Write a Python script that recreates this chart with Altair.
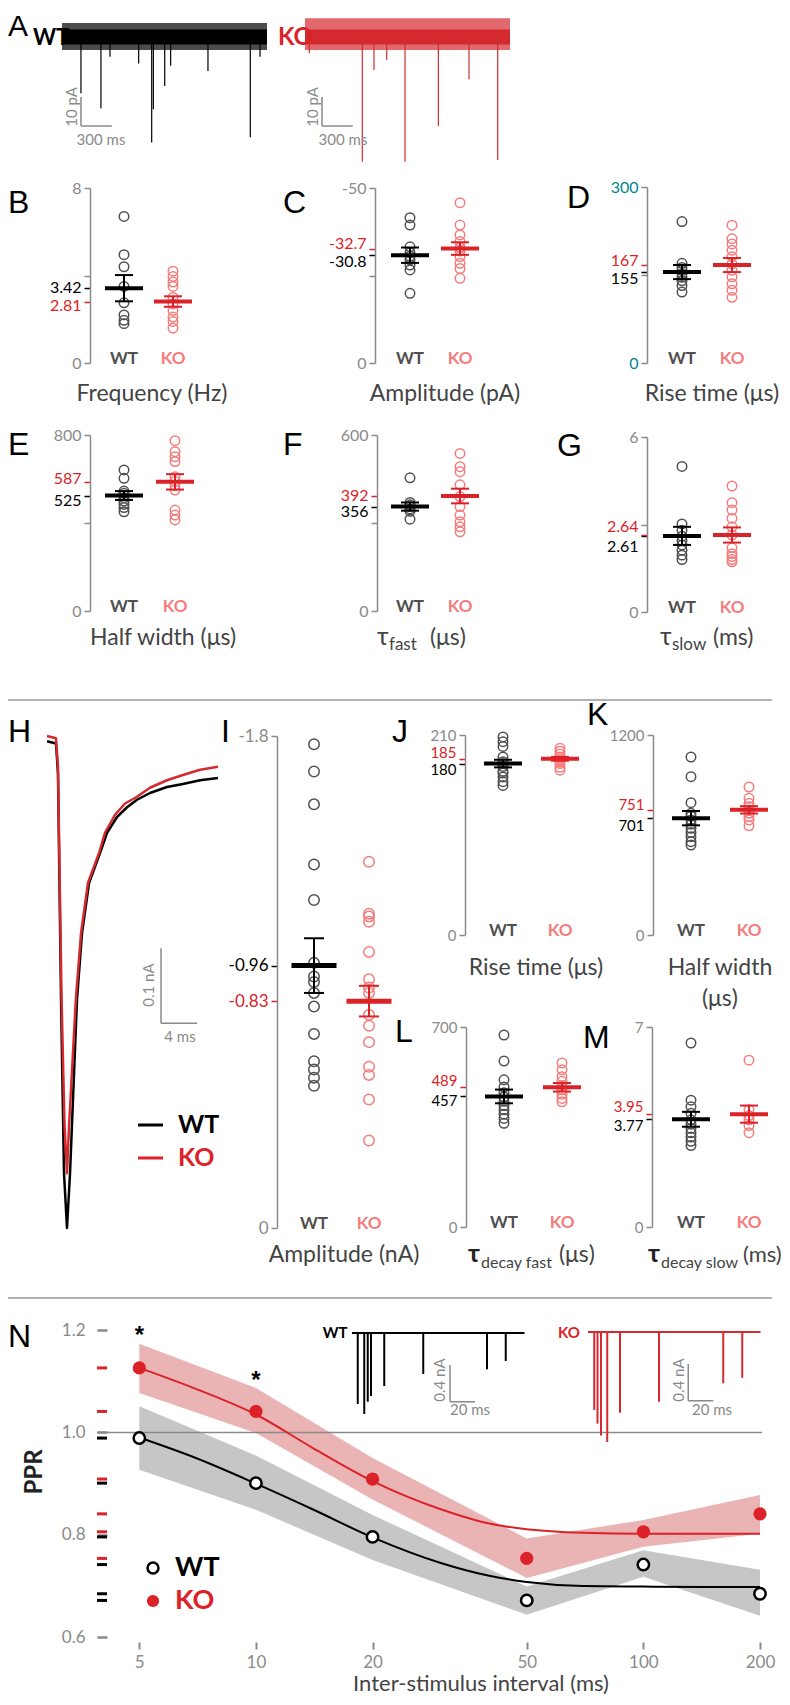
import altair as alt
import pandas as pd

# ================= values =================
# A: spontaneous currents (event time ms, peak pA)
A_WT_T = [185, 380, 468, 748, 875, 891, 1002, 1060, 1424, 1837, 1932]
A_WT_AMP = [-19.4, -24.6, -6.8, -9.1, -36.4, -24.9, -16.9, -9.9, -11.7, -34.6, -6.8]
A_KO_T = [42, 559, 673, 797, 976, 1301, 1600, 1880]
A_KO_AMP = [-5.6, -43.0, -11.4, -7.9, -43.0, -30.7, -14.6, -42.4]
A_WT_NOISE = [-4.5, 4.8]
A_KO_NOISE = [-4.5, 6.5]
A_CORE = [-2.6, 2.6]
A_DUR = 2000
A_BAR_T = [[185, 485], [166, 466]]
A_BAR_PA = [-20.7, -30.7]

# B-G single values
B_WT = [6.7, 4.95, 4.4, 3.5, 2.75, 2.2, 1.95, 1.8]
B_KO = [4.2, 3.95, 3.7, 3.5, 3.0, 2.7, 2.4, 2.1, 1.9, 1.6]
C_WT = [-41.5, -39.4, -33.2, -31.5, -30.5, -29.5, -28.0, -26.6, -19.9]
C_KO = [-45.8, -39.4, -36.6, -34.7, -33.0, -32.0, -30.4, -28.5, -27.0, -24.2]
D_WT = [241, 170, 163, 158, 152, 146, 140, 132, 121]
D_KO = [235, 212, 203, 192, 181, 169, 158, 147, 135, 124, 112]
E_WT = [641, 603, 545, 535, 525, 515, 500, 485, 470, 451]
E_KO = [774, 724, 701, 679, 610, 590, 570, 550, 459, 436, 414]
F_WT = [454, 370, 362, 356, 348, 340, 313]
F_KO = [537, 492, 475, 430, 390, 356, 327, 304, 287, 270]
G_WT = [4.99, 3.02, 2.8, 2.6, 2.45, 2.3, 2.12, 1.95, 1.8]
G_KO = [4.32, 3.75, 3.5, 3.21, 2.92, 2.64, 2.2, 2.0, 1.9, 1.8, 1.72]
I_WT = [-1.77, -1.67, -1.55, -1.33, -1.20, -0.97, -0.92, -0.90, -0.86, -0.81, -0.71, -0.61, -0.58, -0.55, -0.52]
I_KO = [-1.34, -1.15, -1.14, -1.12, -1.01, -0.91, -0.88, -0.86, -0.78, -0.74, -0.68, -0.59, -0.56, -0.47, -0.32]
J_WT = [208, 203, 198, 187, 182, 180, 177, 172, 170, 166, 161, 157]
J_KO = [196, 193, 190, 187, 186, 184, 182, 180, 176, 173]
K_WT = [1068, 950, 794, 730, 712, 690, 665, 640, 615, 590, 560, 540]
K_KO = [888, 820, 790, 770, 750, 730, 710, 690, 655]
L_WT = [672, 581, 515, 490, 470, 455, 440, 425, 410, 395, 380, 363]
L_KO = [574, 550, 526, 510, 495, 480, 465, 450, 438]
M_WT = [6.44, 4.44, 4.21, 3.98, 3.75, 3.6, 3.45, 3.3, 3.15, 3.0, 2.85]
M_KO = [5.84, 4.1, 3.9, 3.75, 3.55, 3.3]

# means (WT, KO) and SEM (WT, KO)
B_MEAN, B_SEM = [3.42, 2.81], [0.6, 0.24]
C_MEAN, C_SEM = [-30.8, -32.7], [2.2, 1.8]
D_MEAN, D_SEM = [155, 167], [12, 12]
E_MEAN, E_SEM = [525, 587], [20, 35]
F_MEAN, F_SEM = [356, 392], [14, 25]
G_MEAN, G_SEM = [2.61, 2.64], [0.31, 0.26]
I_MEAN, I_SEM = [-0.96, -0.83], [0.10, 0.056]
J_MEAN, J_SEM = [180, 185], [4, 2]
K_MEAN, K_SEM = [701, 751], [43, 22]
L_MEAN, L_SEM = [457, 489], [24, 15]
M_MEAN, M_SEM = [3.77, 3.95], [0.26, 0.30]

# H: averaged traces (ms, nA)
H_T_WT = [0, 1.0, 1.22, 1.56, 1.89, 2.22, 2.56, 3.33, 3.89, 4.67, 5.89, 6.67, 7.78, 8.89, 10.0, 11.44, 13.33, 15.1, 17.0, 19.0]
H_I_WT = [-0.007, -0.01, -0.05, -0.352, -0.583, -0.656, -0.583, -0.352, -0.263, -0.196, -0.156, -0.129, -0.108, -0.095, -0.085, -0.076, -0.068, -0.064, -0.059, -0.056]
H_T_KO = [0, 1.0, 1.22, 1.62, 1.95, 2.22, 2.45, 3.2, 3.78, 4.55, 5.78, 6.44, 7.56, 8.67, 10.0, 11.44, 13.33, 15.1, 17.0, 19.0]
H_I_KO = [0.0, -0.003, -0.04, -0.352, -0.52, -0.583, -0.52, -0.352, -0.263, -0.196, -0.156, -0.129, -0.105, -0.09, -0.081, -0.069, -0.059, -0.052, -0.045, -0.041]
H_BAR_T = [12.67, 16.67]
H_BAR_I = [-0.283, -0.383]

# N: paired-pulse ratio
ISI = [5, 10, 20, 50, 100, 200]
PPR_WT = [0.989, 0.901, 0.796, 0.672, 0.742, 0.685]
PPR_KO = [1.126, 1.041, 0.909, 0.754, 0.806, 0.841]
BAND_WT_LO = [0.927, 0.849, 0.751, 0.644, 0.718, 0.642]
BAND_WT_HI = [1.051, 0.955, 0.839, 0.699, 0.770, 0.732]
BAND_KO_LO = [1.077, 0.999, 0.869, 0.716, 0.777, 0.802]
BAND_KO_HI = [1.173, 1.087, 0.950, 0.793, 0.829, 0.878]
FIT_ISI = [5, 7, 10, 14, 20, 30, 40, 50, 70, 100, 150, 200]
FIT_WT = [0.99, 0.95, 0.90, 0.85, 0.795, 0.745, 0.72, 0.708, 0.70, 0.699, 0.698, 0.698]
FIT_KO = [1.126, 1.085, 1.035, 0.97, 0.905, 0.85, 0.822, 0.811, 0.804, 0.802, 0.802, 0.802]
STAR_ISI = [5, 10]
REF_PPR = [1.0]
# N insets (ms, nA)
INS_WT_T = [4.6, 9.8, 12.6, 15.2, 25.8, 57.0, 108.0, 123.0]
INS_WT_AMP = [-0.774, -0.883, -0.749, -0.687, -0.578, -0.447, -0.396, -0.305]
INS_KO_T = [5.0, 7.6, 10.4, 15.4, 25.6, 56.8, 108.2, 123.4]
INS_KO_AMP = [-0.85, -1.0, -1.13, -1.2, -0.88, -0.76, -0.56, -0.50]
INS_DUR = 138
INS_BAR_T = [[78.4, 98.4], [80.2, 100.2]]
INS_BAR_I = [-0.35, -0.75]

# ================= styling =================
OX = OY = 8
def X(v): return v - OX
def Y(v): return v - OY

RED = "#dc2229"
PINK = "#f47c7c"
WTC = "#505050"
AG = "#8a8a8a"
TD = "#444444"
TEAL = "#00878a"
FONT = "Lato"
LFONT = "Liberation Sans"
ONE = alt.Data(values=[{}])
LET = 32

layers = []

def txt(s, x, y, size=23, color=TD, weight="normal", align="center", baseline="alphabetic", font=FONT, angle=None):
    kw = dict(text=s, fontSize=size, color=color, fontWeight=weight, align=align, baseline=baseline, font=font)
    if angle is not None:
        kw["angle"] = angle
    return alt.Chart(ONE).mark_text(**kw).encode(x=alt.value(X(x)), y=alt.value(Y(y)))

def letter(s, x, y):
    return txt(s, max(x, 8), y, size=LET, color="black", align="left", font=LFONT)

def hline(x1, x2, y, color, w):
    return alt.Chart(ONE).mark_rule(color=color, strokeWidth=w).encode(
        x=alt.value(X(x1)), x2=alt.value(X(x2)), y=alt.value(Y(y)))

def lin(d, r):
    return alt.Scale(domain=d, range=r, nice=False, zero=False)

# ---------------- A ----------------
def trace_A(ts, amps, noise, x0, x1, color, bar_t):
    xs = lin([0, A_DUR], [X(x0), X(x1)])
    ys = lin([-50, 10], [Y(182), Y(8)])
    out = []
    band = pd.DataFrame({"t0": [0], "t1": [A_DUR], "lo": [noise[0]], "hi": [noise[1]]})
    out.append(alt.Chart(band).mark_rect(color=color, opacity=0.7).encode(
        x=alt.X("t0:Q", scale=xs, axis=None), x2="t1:Q",
        y=alt.Y("lo:Q", scale=ys, axis=None), y2="hi:Q"))
    core = pd.DataFrame({"t0": [0], "t1": [A_DUR], "lo": [A_CORE[0]], "hi": [A_CORE[1]]})
    out.append(alt.Chart(core).mark_rect(color=color, opacity=1).encode(
        x=alt.X("t0:Q", scale=xs, axis=None), x2="t1:Q",
        y=alt.Y("lo:Q", scale=ys, axis=None), y2="hi:Q"))
    sp = pd.DataFrame({"t": ts, "a": amps, "z": 0})
    out.append(alt.Chart(sp).mark_rule(color=color, strokeWidth=1.2).encode(
        x=alt.X("t:Q", scale=xs, axis=None), y=alt.Y("z:Q", scale=ys, axis=None), y2="a:Q"))
    sb = pd.DataFrame({"t0": [bar_t[0]], "t1": [bar_t[1]], "p0": [A_BAR_PA[0]], "p1": [A_BAR_PA[1]]})
    out.append(alt.Chart(sb).mark_rule(color=AG, strokeWidth=1.5).encode(
        x=alt.X("t0:Q", scale=xs, axis=None), y=alt.Y("p0:Q", scale=ys, axis=None), y2="p1:Q"))
    out.append(alt.Chart(sb).mark_rule(color=AG, strokeWidth=1.5).encode(
        x=alt.X("t0:Q", scale=xs, axis=None), x2="t1:Q", y=alt.Y("p1:Q", scale=ys, axis=None)))
    return out

layers += trace_A(A_WT_T, A_WT_AMP, A_WT_NOISE, 62, 267, "black", A_BAR_T[0])
layers += trace_A(A_KO_T, A_KO_AMP, A_KO_NOISE, 305, 510, "#d42a2f", A_BAR_T[1])
layers += [
    txt("A", 8, 36, size=30, color="black", align="left", font=LFONT),
    txt("WT", 33, 45, size=22, color="black", weight="bold", align="left"),
    txt("KO", 278, 45, size=24, color=RED, weight="bold", align="left"),
    txt("10 pA", 72, 107, size=15, color=AG, baseline="middle", angle=270),
    txt("300 ms", 101, 145, size=15, color=AG),
    txt("10 pA", 313, 107, size=15, color=AG, baseline="middle", angle=270),
    txt("300 ms", 343, 145, size=15, color=AG),
]

# ---------------- dot panels ----------------
def dot_panel(wt, ko, mean, sem, ymax, mid, ax, wx, kx, yb, yt, offs, end_color=AG,
              lab_size=16, bar=38, cap=18, bar_th=4, pt=90):
    xs = lin([0, 1], [X(wx), X(kx)])
    ys = lin([0, ymax], [Y(yb), Y(yt)])
    mw, mk = mean
    tw = f"datum.value == {mw}"
    tk = f"datum.value == {mk}"
    vals = [0, ymax] + ([mid] if mid is not None else []) + [mw, mk]
    lexpr = (f"datum.value == {mid} ? '' : '' + datum.value") if mid is not None else "'' + datum.value"
    axis = alt.Axis(
        orient="left", offset=-X(ax), values=vals, title=None, grid=False,
        domainColor=AG, domainWidth=1.5, tickSize=6, tickWidth=1.5,
        tickColor={"condition": [{"test": tw, "value": "black"}, {"test": tk, "value": RED}], "value": AG},
        labelColor={"condition": [{"test": tw, "value": "black"}, {"test": tk, "value": RED}], "value": end_color},
        labelOffset={"condition": [{"test": tw, "value": offs[0]}, {"test": tk, "value": offs[1]}], "value": 0},
        labelExpr=lexpr, labelFont=FONT, labelFontSize=lab_size, labelPadding=3,
        labelOverlap=False, labelBound=False, labelFlush=False)
    xe = alt.X("g:Q", scale=xs, axis=None)
    def ye(f, a=None):
        return alt.Y(f"{f}:Q", scale=ys, axis=a)
    out = [
        alt.Chart(pd.DataFrame({"g": 0, "v": wt})).mark_point(
            shape="circle", filled=False, size=pt, strokeWidth=1.5, color=WTC, opacity=1
        ).encode(x=xe, y=ye("v", axis)),
        alt.Chart(pd.DataFrame({"g": 1, "v": ko})).mark_point(
            shape="circle", filled=False, size=pt, strokeWidth=1.5, color=PINK, opacity=1
        ).encode(x=xe, y=ye("v")),
    ]
    for gi, col in ((0, "black"), (1, RED)):
        st = pd.DataFrame({"g": [gi], "m": [mean[gi]], "lo": [mean[gi] - sem[gi]], "hi": [mean[gi] + sem[gi]]})
        b = alt.Chart(st)
        out.append(b.mark_rule(color=col, strokeWidth=2).encode(x=xe, y=ye("lo"), y2="hi:Q"))
        out.append(b.mark_tick(orient="horizontal", size=cap, thickness=2, color=col, opacity=1).encode(x=xe, y=ye("lo")))
        out.append(b.mark_tick(orient="horizontal", size=cap, thickness=2, color=col, opacity=1).encode(x=xe, y=ye("hi")))
        out.append(b.mark_tick(orient="horizontal", size=bar, thickness=bar_th, color=col, opacity=1).encode(x=xe, y=ye("m")))
    for gi, name, col in ((0, "WT", WTC), (1, "KO", PINK)):
        out.append(alt.Chart(pd.DataFrame({"g": [gi], "v": [0], "t": [name]})).mark_text(
            font=FONT, fontSize=17, fontWeight="bold", color=col, baseline="alphabetic", dy=1
        ).encode(x=xe, y=ye("v"), text="t:N"))
    return out

layers += dot_panel(B_WT, B_KO, B_MEAN, B_SEM, 8, 4, 90, 124, 173, 363, 188, (-1, 3.5))
layers += dot_panel(C_WT, C_KO, C_MEAN, C_SEM, -50, -25, 375, 410, 460, 363, 188, (6.7, -4.6))
layers += dot_panel(D_WT, D_KO, D_MEAN, D_SEM, 300, 150, 647, 682, 732, 363, 187, (6.6, -4.7), end_color=TEAL)
layers += dot_panel(E_WT, E_KO, E_MEAN, E_SEM, 800, 400, 90, 124, 175, 611, 435, (4.5, -3))
layers += dot_panel(F_WT, F_KO, F_MEAN, F_SEM, 600, 300, 377, 410, 460, 611, 435, (5, -1))
layers += dot_panel(G_WT, G_KO, G_MEAN, G_SEM, 6, 3, 647, 682, 732, 612, 437, (11, -9))
layers += dot_panel(I_WT, I_KO, I_MEAN, I_SEM, -1.8, None, 277, 314, 369, 1228, 736, (0, 0),
                    lab_size=17, bar=45, cap=20, bar_th=5, pt=110)
layers += dot_panel(J_WT, J_KO, J_MEAN, J_SEM, 210, None, 465, 503, 560, 935, 735, (6.4, -6), lab_size=15)
layers += dot_panel(K_WT, K_KO, K_MEAN, K_SEM, 1200, None, 653, 691, 749, 935, 735, (7, -5.5), lab_size=15)
layers += dot_panel(L_WT, L_KO, L_MEAN, L_SEM, 700, None, 466, 504, 562, 1227, 1027, (3.6, -6.6), lab_size=15)
layers += dot_panel(M_WT, M_KO, M_MEAN, M_SEM, 7, None, 652, 691, 749, 1227, 1027, (6.7, -8), lab_size=15)

# panel letters and titles
layers += [
    letter("B", 8, 213), letter("C", 283, 213), letter("D", 567, 208),
    letter("E", 8, 455), letter("F", 283, 455), letter("G", 557, 456),
    letter("H", 8, 742), letter("I", 221, 742), letter("J", 392, 742),
    letter("K", 587, 725), letter("L", 395, 1042), letter("M", 583, 1048),
    letter("N", 8, 1347),
    txt("Frequency (Hz)", 152, 401),
    txt("Amplitude (pA)", 445, 401),
    txt("Rise time (μs)", 712, 401),
    txt("Half width (μs)", 163, 645),
    txt("τ", 377, 645, size=25, align="left"),
    txt("fast", 389, 650, size=17, align="left"),
    txt("(μs)", 430, 645, align="left"),
    txt("τ", 660, 645, size=25, align="left"),
    txt("slow", 672, 650, size=17, align="left"),
    txt("(ms)", 713, 645, align="left"),
    txt("Amplitude (nA)", 344, 1262),
    txt("Rise time (μs)", 536, 975),
    txt("Half width", 720, 975),
    txt("(μs)", 720, 1006),
    txt("τ", 468, 1262, size=25, color="#222222", weight="bold", align="left"),
    txt("decay fast", 481, 1268, size=16, align="left"),
    txt("(μs)", 559, 1262, align="left"),
    txt("τ", 648, 1262, size=25, color="#222222", weight="bold", align="left"),
    txt("decay slow", 661, 1268, size=16, align="left"),
    txt("(ms)", 743, 1262, size=22, align="left"),
]

# separators
layers += [hline(8, 772, 700, "#999999", 1.5), hline(8, 772, 1298, "#999999", 1.5)]

# ---------------- H ----------------
xsH = lin([0, 20], [X(47), X(227)])
ysH = lin([-0.7, 0], [Y(1261), Y(736)])
for ts, vs, col in ((H_T_WT, H_I_WT, "black"), (H_T_KO, H_I_KO, "#d42a2f")):
    d = pd.DataFrame({"t": ts, "i": vs, "k": range(len(ts))})
    layers.append(alt.Chart(d).mark_line(color=col, strokeWidth=2.5, strokeJoin="round").encode(
        x=alt.X("t:Q", scale=xsH, axis=None), y=alt.Y("i:Q", scale=ysH, axis=None), order="k:Q"))
hsb = pd.DataFrame({"t0": [H_BAR_T[0]], "t1": [H_BAR_T[1]], "i0": [H_BAR_I[0]], "i1": [H_BAR_I[1]]})
layers.append(alt.Chart(hsb).mark_rule(color=AG, strokeWidth=1.5).encode(
    x=alt.X("t0:Q", scale=xsH, axis=None), y=alt.Y("i0:Q", scale=ysH, axis=None), y2="i1:Q"))
layers.append(alt.Chart(hsb).mark_rule(color=AG, strokeWidth=1.5).encode(
    x=alt.X("t0:Q", scale=xsH, axis=None), x2="t1:Q", y=alt.Y("i1:Q", scale=ysH, axis=None)))
layers += [
    txt("0.1 nA", 149, 985, size=15, color=AG, baseline="middle", angle=270),
    txt("4 ms", 180, 1042, size=15, color=AG),
    hline(138, 163, 1125, "black", 3),
    hline(138, 163, 1158, RED, 3),
    txt("WT", 178, 1125, size=25, color="black", weight="bold", align="left", baseline="middle"),
    txt("KO", 178, 1158, size=25, color=RED, weight="bold", align="left", baseline="middle"),
]

# ---------------- N ----------------
xsN = alt.Scale(type="log", domain=[5, 200], range=[X(139.3), X(760)], nice=False)
ysN = lin([0.6, 1.2], [Y(1637.3), Y(1330)])
dN = pd.DataFrame({"isi": ISI, "wt": PPR_WT, "ko": PPR_KO,
                   "wlo": BAND_WT_LO, "whi": BAND_WT_HI, "klo": BAND_KO_LO, "khi": BAND_KO_HI})
dF = pd.DataFrame({"isi": FIT_ISI, "wt": FIT_WT, "ko": FIT_KO})
xaxN = alt.Axis(orient="bottom", offset=Y(1642) - 1689, values=ISI, format="d", domain=False, grid=False,
                tickColor=AG, tickSize=7, tickWidth=2, labelColor=AG, labelFontSize=17, labelFont=FONT,
                labelPadding=5, labelOverlap=False, labelFlush=False, title=None)
yaxN = alt.Axis(orient="left", offset=-X(107), values=[0.6, 0.8, 1.0, 1.2], format=".1f", domain=False,
                grid=False, tickColor=AG, tickSize=10, tickWidth=2.5, labelColor=AG, labelFontSize=17,
                labelFont=FONT, labelPadding=12, labelOverlap=False, title=None)
xN = alt.X("isi:Q", scale=xsN, axis=None)
def yN(f, a=None):
    return alt.Y(f"{f}:Q", scale=ysN, axis=a)
layers += [
    alt.Chart(dN).mark_area(color="#c6c6c6", opacity=1).encode(
        x=alt.X("isi:Q", scale=xsN, axis=xaxN), y=yN("wlo", yaxN), y2="whi:Q"),
    alt.Chart(dN).mark_area(color="#eab3b4", opacity=1).encode(x=xN, y=yN("klo"), y2="khi:Q"),
    alt.Chart(pd.DataFrame({"v": REF_PPR})).mark_rule(color="#8a8a8a", strokeWidth=1.5).encode(
        y=yN("v"), x=alt.value(X(97)), x2=alt.value(X(762))),
    alt.Chart(dN).mark_tick(orient="horizontal", size=10, thickness=3, color="black", opacity=1).encode(
        y=yN("wt"), x=alt.value(X(102))),
    alt.Chart(dN).mark_tick(orient="horizontal", size=10, thickness=3, color=RED, opacity=1).encode(
        y=yN("ko"), x=alt.value(X(102))),
    alt.Chart(dF).mark_line(color="black", strokeWidth=2, interpolate="monotone").encode(x=xN, y=yN("wt")),
    alt.Chart(dF).mark_line(color=RED, strokeWidth=2, interpolate="monotone").encode(x=xN, y=yN("ko")),
    alt.Chart(dN).mark_point(shape="circle", filled=True, fill="white", stroke="black", strokeWidth=2.5,
                             size=130, opacity=1).encode(x=xN, y=yN("wt")),
    alt.Chart(dN).mark_circle(color=RED, size=175, opacity=1).encode(x=xN, y=yN("ko")),
]
stars = pd.DataFrame({"isi": STAR_ISI, "yy": [Y(1336), Y(1381)]})
layers.append(alt.Chart(stars).mark_text(text="*", fontSize=24, fontWeight="bold", color="black",
                                         font=LFONT, baseline="middle").encode(x=xN, y=alt.Y("yy:Q", scale=None)))
layers += [
    txt("PPR", 35, 1472, size=24, color="#222222", weight="bold", baseline="middle", angle=270),
    txt("Inter-stimulus interval (ms)", 481, 1691, size=22, color=TD),
    alt.Chart(ONE).mark_point(shape="circle", filled=True, fill="white", stroke="black", strokeWidth=2.5,
                              size=120, opacity=1).encode(x=alt.value(X(153)), y=alt.value(Y(1568))),
    alt.Chart(ONE).mark_circle(color=RED, size=150, opacity=1).encode(x=alt.value(X(153)), y=alt.value(Y(1601))),
    txt("WT", 175, 1568, size=27, color="black", weight="bold", align="left", baseline="middle"),
    txt("KO", 175, 1601, size=27, color=RED, weight="bold", align="left", baseline="middle"),
]

# N insets
def inset(ts, amps, x0, y0, color, bar_t):
    xs = lin([0, 140], [X(x0), X(x0 + 175)])
    ys = lin([-1.3, 0], [Y(y0 + 1.3 * 91.7), Y(y0)])
    out = []
    base = pd.DataFrame({"t0": [0], "t1": [INS_DUR], "z": [0]})
    out.append(alt.Chart(base).mark_rule(color=color, strokeWidth=2).encode(
        x=alt.X("t0:Q", scale=xs, axis=None), x2="t1:Q", y=alt.Y("z:Q", scale=ys, axis=None)))
    sp = pd.DataFrame({"t": ts, "a": amps, "z": 0})
    out.append(alt.Chart(sp).mark_rule(color=color, strokeWidth=2).encode(
        x=alt.X("t:Q", scale=xs, axis=None), y=alt.Y("z:Q", scale=ys, axis=None), y2="a:Q"))
    sb = pd.DataFrame({"t0": [bar_t[0]], "t1": [bar_t[1]], "i0": [INS_BAR_I[0]], "i1": [INS_BAR_I[1]]})
    out.append(alt.Chart(sb).mark_rule(color=AG, strokeWidth=1.5).encode(
        x=alt.X("t0:Q", scale=xs, axis=None), y=alt.Y("i0:Q", scale=ys, axis=None), y2="i1:Q"))
    out.append(alt.Chart(sb).mark_rule(color=AG, strokeWidth=1.5).encode(
        x=alt.X("t0:Q", scale=xs, axis=None), x2="t1:Q", y=alt.Y("i1:Q", scale=ys, axis=None)))
    return out

layers += inset(INS_WT_T, INS_WT_AMP, 352, 1333, "black", INS_BAR_T[0])
layers += inset(INS_KO_T, INS_KO_AMP, 588, 1332, "#d42a2f", INS_BAR_T[1])
layers += [
    txt("WT", 335, 1333, size=15, color="black", weight="bold", baseline="middle"),
    txt("KO", 569, 1333, size=15, color=RED, weight="bold", baseline="middle"),
    txt("0.4 nA", 440, 1380, size=15, color=AG, baseline="middle", angle=270),
    txt("20 ms", 470, 1415, size=15, color=AG),
    txt("0.4 nA", 679, 1380, size=15, color=AG, baseline="middle", angle=270),
    txt("20 ms", 712, 1415, size=15, color=AG),
]

chart = alt.layer(*layers).resolve_scale(x="independent", y="independent").properties(
    width=774, height=1689, padding=0, autosize=alt.AutoSizeParams(type="none")
).configure_view(stroke=None)

chart.save("out.html", embed_options={"renderer": "svg", "actions": False})
